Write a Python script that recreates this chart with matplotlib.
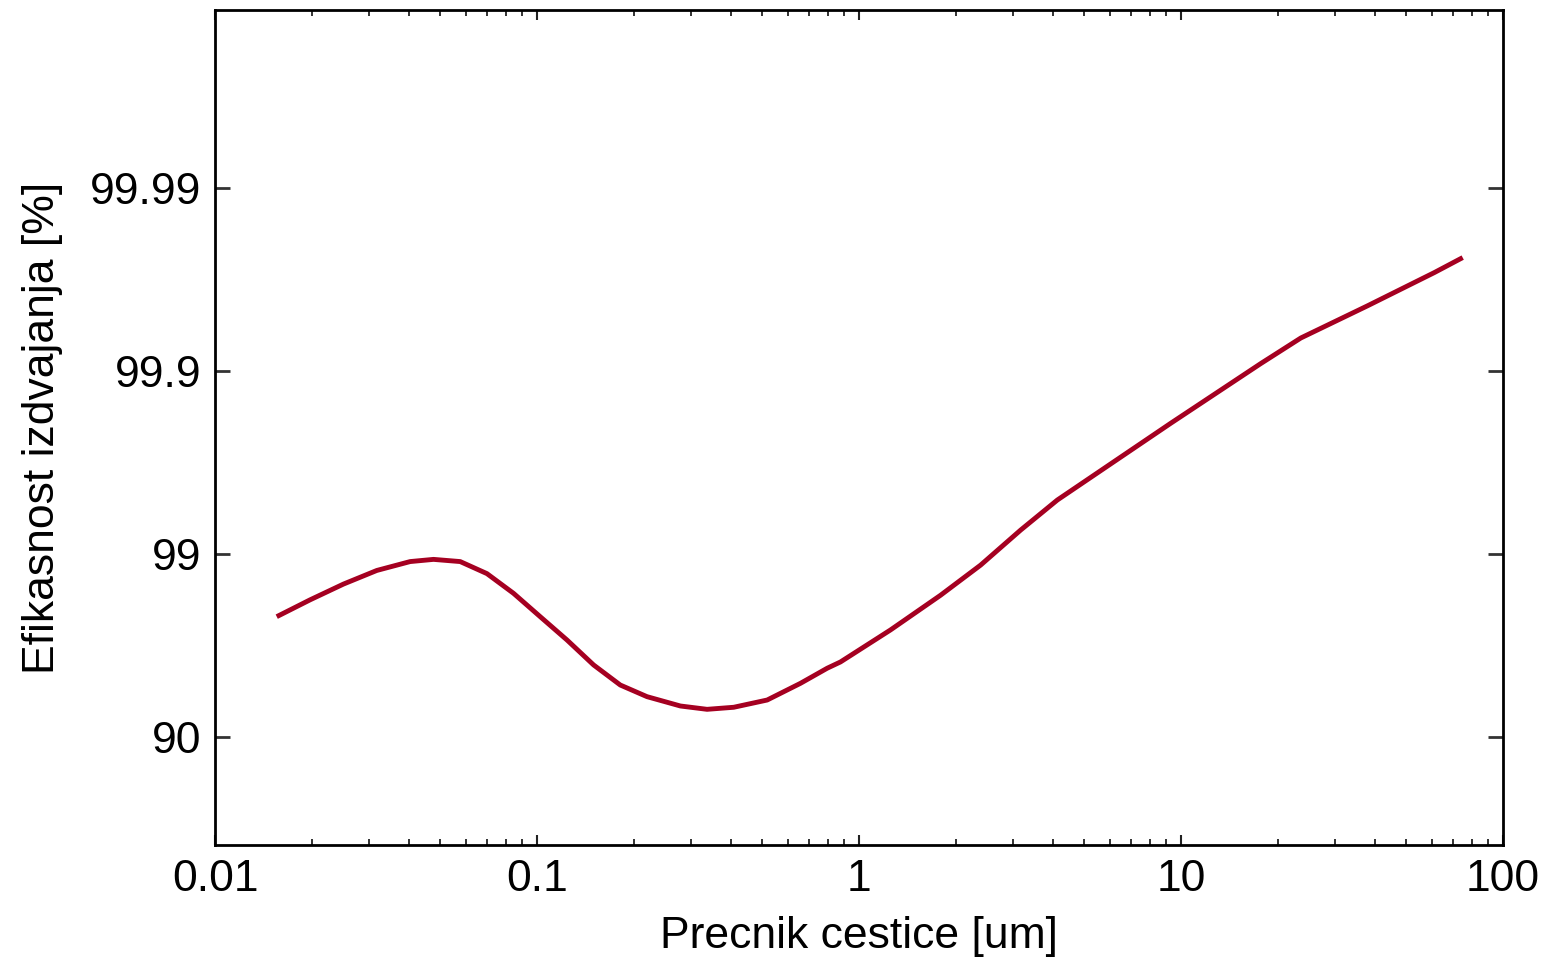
import numpy as np
import matplotlib
matplotlib.use("Agg")
import matplotlib.pyplot as plt
from matplotlib.ticker import LogLocator, NullLocator, FixedLocator, FixedFormatter

# ==================== PODACI ====================
# precnik cestice [um] i efikasnost izdvajanja [%], ocitano sa slike
precnik = [0.01555, 0.01974, 0.02506, 0.03181, 0.04037, 0.04771, 0.05774,
           0.06991, 0.08454, 0.1023, 0.1239, 0.1499, 0.1814, 0.2196,
           0.2788, 0.3374, 0.4083, 0.5186, 0.6580, 0.7965, 0.8759,
           1.2527, 1.792, 2.386, 3.177, 4.130, 9.292,
           17.70, 23.56, 37.98, 61.16, 74.96]
efikasnost = [97.80, 98.22, 98.54, 98.77, 98.90, 98.93, 98.90,
              98.72, 98.36, 97.80, 97.05, 95.96, 94.80, 93.98,
              93.23, 92.94, 93.12, 93.72, 94.91, 95.79, 96.11,
              97.40, 98.32, 98.85, 99.26, 99.493, 99.807,
              99.909, 99.934, 99.956, 99.971, 99.976]

y_ticks = [90, 99, 99.9, 99.99]
y_tick_labels = ['90', '99', '99.9', '99.99']
x_ticks = [0.01, 0.1, 1, 10, 100]
x_tick_labels = ['0.01', '0.1', '1', '10', '100']


# skala "propusnosti": -log10(100 - E)
def fwd(e):
    e = np.asarray(e, dtype=float)
    return -np.log10(np.clip(100.0 - e, 1e-12, None))


def inv(t):
    return 100.0 - 10.0 ** (-np.asarray(t, dtype=float))


plt.rcParams['font.family'] = ['Liberation Sans', 'DejaVu Sans']

fig = plt.figure(figsize=(15.49, 9.58), dpi=100)
ax = fig.add_axes([0.1388, 0.118, 0.8315, 0.8716])

ax.plot(precnik, efikasnost, color='#A50021', linewidth=3.5,
        solid_capstyle='butt', solid_joinstyle='round')

ax.set_xscale('log')
ax.set_yscale('function', functions=(fwd, inv))
ax.set_xlim(0.01, 100)
ax.set_ylim(inv(-1.59), inv(2.973))

ax.xaxis.set_major_locator(FixedLocator(x_ticks))
ax.xaxis.set_major_formatter(FixedFormatter(x_tick_labels))
ax.xaxis.set_minor_locator(LogLocator(base=10, subs=np.arange(2, 10)))
ax.yaxis.set_major_locator(FixedLocator(y_ticks))
ax.yaxis.set_major_formatter(FixedFormatter(y_tick_labels))
ax.yaxis.set_minor_locator(NullLocator())

ax.tick_params(axis='x', which='major', direction='in', top=True, bottom=True,
               length=7, width=1.5, labelsize=32, pad=10, color='#222222')
ax.tick_params(axis='x', which='minor', direction='in', top=True, bottom=True,
               length=4.3, width=1.3, color='#222222')
ax.tick_params(axis='y', which='major', direction='in', left=True, right=True,
               length=11, width=2, labelsize=32, pad=10, color='#333333')
for sp in ax.spines.values():
    sp.set_linewidth(2)

ax.set_xlabel('Precnik cestice [um]', fontsize=32)
ax.xaxis.set_label_coords(0.5, -0.085)
ax.set_ylabel('Efikasnost izdvajanja [%]', fontsize=32)
ax.yaxis.set_label_coords(-0.118, 0.5)

fig.savefig('out.png', dpi=100)
